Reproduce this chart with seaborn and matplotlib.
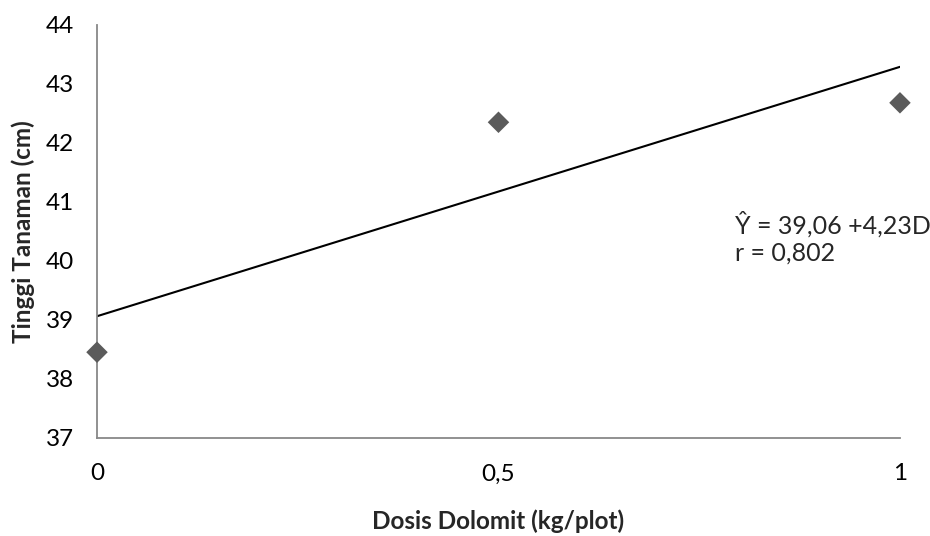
import numpy as np
import pandas as pd
import matplotlib
matplotlib.use("Agg")
import matplotlib.pyplot as plt
import seaborn as sns

# data
dosis = [0.0, 0.5, 1.0]
tinggi = [38.45, 42.35, 42.68]
intercept = 39.06
slope = 4.23
x_ticks = [0, 0.5, 1]
x_tick_labels = ["0", "0,5", "1"]
y_ticks = [37, 38, 39, 40, 41, 42, 43, 44]

sns.set_style("white")
plt.rcParams['font.family'] = ['Lato', 'DejaVu Sans']

df = pd.DataFrame({'Dosis': dosis, 'Tinggi': tinggi})

fig = plt.figure(figsize=(9.3, 5.36), dpi=100)
ax = fig.add_axes([0.1043, 0.1834, 0.8634, 0.77])

line_x = np.array([min(dosis), max(dosis)])
ax.plot(line_x, intercept + slope * line_x, color='black', lw=1.5, zorder=2)

sns.scatterplot(data=df, x='Dosis', y='Tinggi', marker='D', s=120,
                color='#5b5b5b', edgecolor='none', ax=ax, zorder=4, clip_on=False)

ax.set_xlim(0, 1)
ax.set_ylim(37, 44)
ax.set_xticks(x_ticks)
ax.set_xticklabels(x_tick_labels)
ax.set_yticks(y_ticks)

for side in ['top', 'right']:
    ax.spines[side].set_visible(False)
for side in ['left', 'bottom']:
    ax.spines[side].set_color('#888888')
    ax.spines[side].set_linewidth(1.3)

ax.tick_params(axis='both', which='major', direction='out', length=5.5, width=1.3,
               color='#888888', labelsize=17.5, labelcolor='black')
ax.tick_params(axis='y', pad=11)
ax.tick_params(axis='x', pad=13)

ax.set_xlabel('Dosis Dolomit (kg/plot)', fontsize=17.5, fontweight='bold', labelpad=18)
ax.set_ylabel('Tinggi Tanaman (cm)', fontsize=17.5, fontweight='bold', labelpad=8)

ax.text(0.795, 40.85, 'Ŷ = 39,06 +4,23D\nr = 0,802', fontsize=18,
        ha='left', va='top', linespacing=1.25)

fig.savefig('out.png', dpi=100)
